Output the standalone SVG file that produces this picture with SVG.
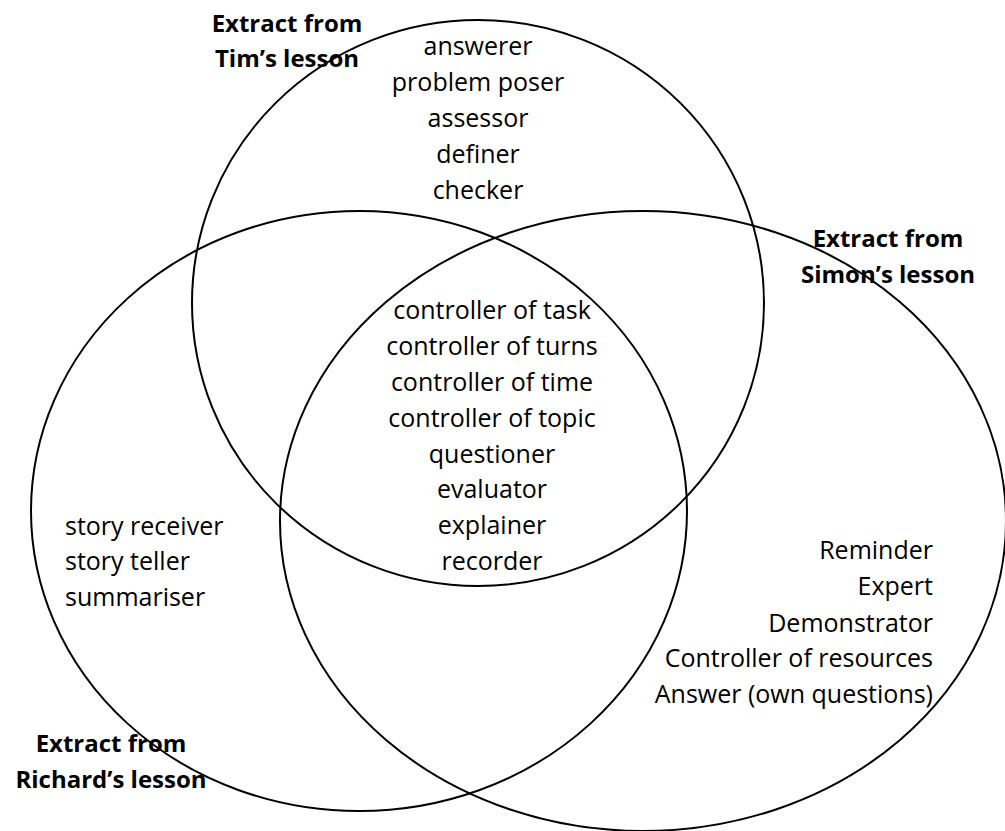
<svg xmlns="http://www.w3.org/2000/svg" width="1005" height="831" viewBox="0 0 1005 831">
  <style>
    .set { fill: none; stroke: #000; stroke-width: 2; }
    .item { font-family: "Open Sans", "Liberation Sans", sans-serif; font-size: 25px; fill: #000; }
    .title { font-family: "Open Sans", "Liberation Sans", sans-serif; font-size: 24px; font-weight: bold; fill: #000; text-anchor: middle; }
    .mid { text-anchor: middle; }
    .end { text-anchor: end; }
  </style>
  <rect width="1005" height="831" fill="#fff"/>

  <!-- the three lesson sets -->
  <g id="connectors">
    <ellipse id="set-tim" class="set" cx="478" cy="303" rx="286" ry="283"/>
    <ellipse id="set-richard" class="set" cx="359" cy="511" rx="328" ry="300"/>
    <ellipse id="set-simon" class="set" cx="643" cy="521" rx="363" ry="310"/>
  </g>

  <!-- Tim only -->
  <g id="tim">
    <text class="title" x="287" y="32">Extract from</text>
    <text class="title" x="287" y="67">Tim’s lesson</text>
    <text class="item mid" x="478" y="55">answerer</text>
    <text class="item mid" x="478" y="91">problem poser</text>
    <text class="item mid" x="478" y="127">assessor</text>
    <text class="item mid" x="478" y="163">definer</text>
    <text class="item mid" x="478" y="199">checker</text>
  </g>

  <!-- shared by all three -->
  <g id="common">
    <text class="item mid" x="492" y="319">controller of task</text>
    <text class="item mid" x="492" y="355">controller of turns</text>
    <text class="item mid" x="492" y="391">controller of time</text>
    <text class="item mid" x="492" y="427">controller of topic</text>
    <text class="item mid" x="492" y="463">questioner</text>
    <text class="item mid" x="492" y="498">evaluator</text>
    <text class="item mid" x="492" y="534">explainer</text>
    <text class="item mid" x="492" y="570">recorder</text>
  </g>

  <!-- Richard only -->
  <g id="richard">
    <text class="item" x="65" y="535">story receiver</text>
    <text class="item" x="65" y="570">story teller</text>
    <text class="item" x="65" y="606">summariser</text>
    <text class="title" x="111" y="752">Extract from</text>
    <text class="title" x="111" y="788">Richard’s lesson</text>
  </g>

  <!-- Simon only -->
  <g id="simon">
    <text class="title" x="888" y="247">Extract from</text>
    <text class="title" x="888" y="283">Simon’s lesson</text>
    <text class="item end" x="933" y="559">Reminder</text>
    <text class="item end" x="933" y="595">Expert</text>
    <text class="item end" x="933" y="632">Demonstrator</text>
    <text class="item end" x="933" y="667">Controller of resources</text>
    <text class="item end" x="933" y="703">Answer (own questions)</text>
  </g>
</svg>
